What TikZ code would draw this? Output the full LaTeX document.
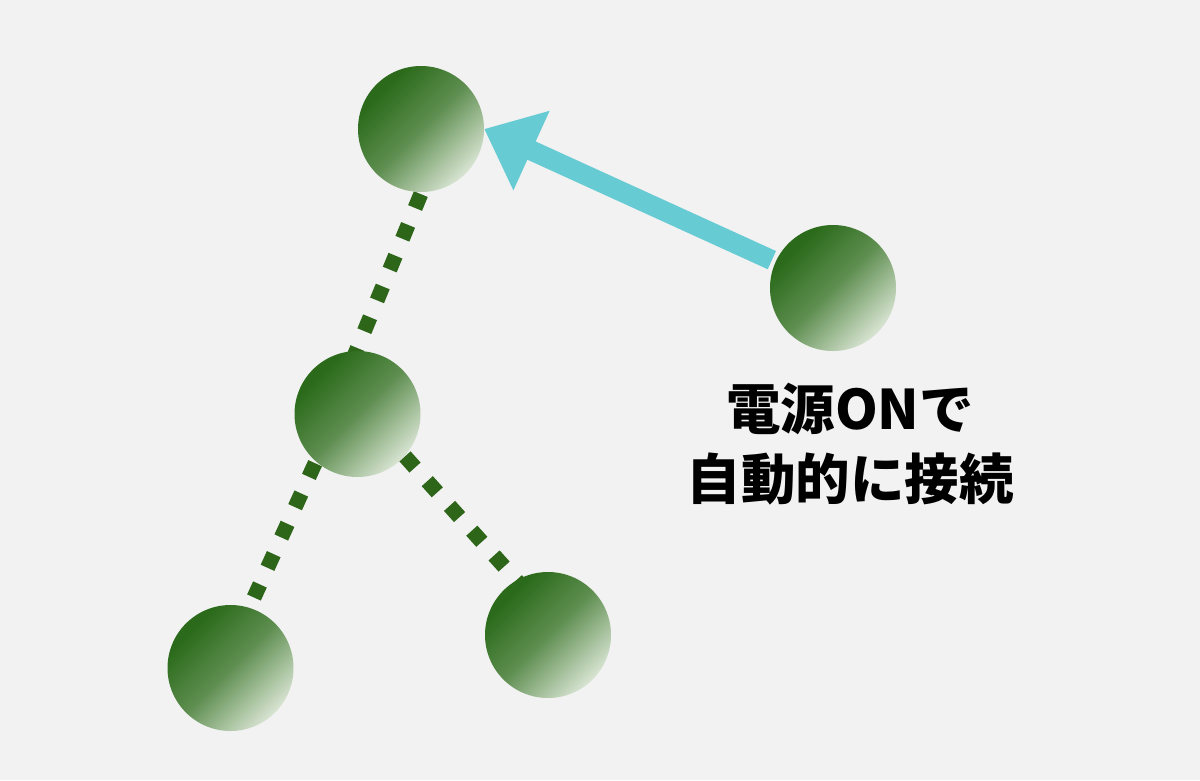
\documentclass[tikz,border=0pt]{standalone}
\usepackage{fontspec}
\newfontfamily\cjk{Noto Sans CJK JP}
\usetikzlibrary{arrows.meta}
\definecolor{bg}{HTML}{F2F2F2}
\definecolor{gdark}{HTML}{2A6A1A}
\definecolor{gmid}{HTML}{5E8E50}
\definecolor{glight}{HTML}{D8E4D2}
\definecolor{dashgreen}{HTML}{2D6519}
\definecolor{arrowcyan}{HTML}{67CBD3}
\pgfdeclareverticalshading{nodeshade}{100bp}{color(0bp)=(glight); color(25bp)=(glight); color(50bp)=(gmid); color(72bp)=(gdark); color(100bp)=(gdark)}
\tikzset{
  ball/.style={circle, minimum size=126pt, inner sep=0pt, shading=nodeshade, shading angle=45},
  link/.style={draw=dashgreen, line width=15pt, dash pattern=on 15pt off 18.3pt},
  pointer/.style={draw=arrowcyan, line width=20pt, -{Triangle[length=52pt,width=84pt]}},
  caption/.style={font=\cjk\bfseries\fontsize{54.5}{70}\selectfont, align=center, text=black}
}
\begin{document}
\begin{tikzpicture}[x=1pt,y=-1pt]
\fill[bg] (0,0) rectangle (1200,780);
\useasboundingbox (0,0) rectangle (1200,780);
% link coordinates
\coordinate (l1s) at (420.8,194.1);
\coordinate (l1e) at (350,366);
\coordinate (l2s) at (315.1,463.2);
\coordinate (l2e) at (254,597.5);
\coordinate (l3s) at (405,456.4);
\coordinate (l3e) at (527,592);
\draw[link] (l1s) -- (l1e);
\draw[link] (l2s) -- (l2e);
\draw[link] (l3s) -- (l3e);
% nodes
\node[ball] (top) at (421,129) {};
\node[ball] (mid) at (357.5,414) {};
\node[ball] (bl) at (230.5,668) {};
\node[ball] (br) at (548,635) {};
\node[ball] (right) at (833,288) {};
\draw[pointer, shorten <=4pt] (right) -- (top.east);
\node[caption] (txt) at (850,444) {電源ONで\\自動的に接続};
\end{tikzpicture}
\end{document}
